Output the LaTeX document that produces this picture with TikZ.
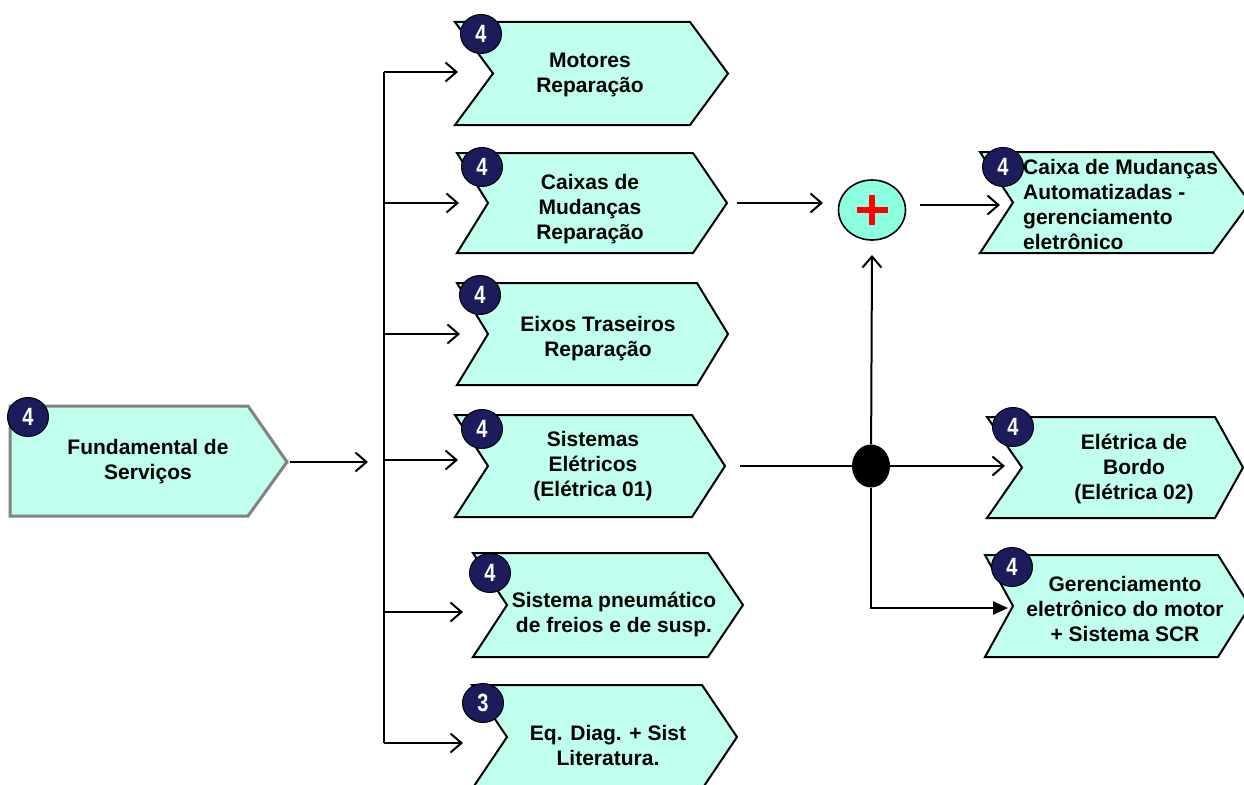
\documentclass[tikz,border=0pt]{standalone}
\usepackage{fontspec}
\setmainfont{Liberation Sans}
\usetikzlibrary{arrows.meta,shapes.geometric}
\definecolor{mint}{RGB}{192,255,238}
\definecolor{aqua}{RGB}{140,255,222}
\definecolor{navy}{RGB}{28,28,92}
\definecolor{gborder}{RGB}{130,130,130}
\newcommand{\chev}[7]{%
  \draw[chevbox] (#2,#3) -- (#6,#3) -- (#7,{(#3+#4)/2}) -- (#6,#4) -- (#2,#4) -- ({#2+#5},{(#3+#4)/2}) -- cycle;
  \coordinate (#1-w) at (#2,{(#3+#4)/2});
  \coordinate (#1-n) at ({#2+#5},{(#3+#4)/2});
  \coordinate (#1-e) at (#7,{(#3+#4)/2});
}
\tikzset{
  chevbox/.style={draw=black, line width=2pt, fill=mint, line join=miter},
  fundbox/.style={draw=gborder, line width=3pt, fill=mint, line join=miter},
  txt/.style={font=\fontsize{21}{25}\selectfont\bfseries, align=center, inner sep=0pt},
  badge/.style={ellipse, draw=black, line width=1pt, fill=navy, text=white,
    font=\fontsize{25}{25}\selectfont\bfseries, minimum width=41pt, minimum height=39pt, inner sep=0pt},
  conn/.style={line width=2pt},
  arr/.style={conn, -{Straight Barb[length=11pt,width=19pt,line width=2pt]}},
  farr/.style={conn, -{Triangle[length=15pt,width=13pt]}},
  plusnode/.style={ellipse, draw=black, line width=1.6pt, fill=aqua, minimum width=67pt, minimum height=60pt, inner sep=0pt},
  dotnode/.style={ellipse, fill=black, minimum width=38pt, minimum height=43pt, inner sep=0pt},
}
\newcommand{\bd}[1]{\scalebox{0.8}[1]{#1}}
\begin{document}
\begin{tikzpicture}[x=1pt,y=-1pt]
\useasboundingbox (0,0) rectangle (1244,784);
% left box
\draw[fundbox] (10,406) -- (248,406) -- (287,462) -- (248,516) -- (10,516) -- cycle;
\coordinate (fund-e) at (287,462);
% middle column
\chev{mot}{455}{22}{125}{38}{690}{728}
\chev{cai}{457}{153}{253}{31}{693}{727}
\chev{eix}{457}{283}{385}{31}{697}{728}
\chev{sis}{455}{415}{517}{33}{692}{725}
\chev{pne}{473}{553}{657}{34}{708}{743}
\chev{eqd}{472}{685}{789}{35}{702}{737}
% right column
\chev{cma}{980}{152}{253}{33}{1213}{1250}
\chev{ele}{987}{417}{518}{35}{1215}{1243}
\chev{ger}{985}{555}{657}{28}{1218}{1250}
% texts
\node[txt] (fund-t) at (148,462) {Fundamental de\\Serviços};
\node[txt] (mot-t) at (590,75) {Motores\\Reparação};
\node[txt] (cai-t) at (590,209) {Caixas de\\Mudanças\\Reparação};
\node[txt] (eix-t) at (598,339) {Eixos Traseiros\\Reparação};
\node[txt] (sis-t) at (593,466) {Sistemas\\Elétricos\\(Elétrica 01)};
\node[txt] (pne-t) at (614,614) {Sistema pneumático\\de freios e de susp.};
\node[txt] (eqd-t) at (608,745) {Eq. Diag. + Sist\\Literatura.};
\node[txt, align=left, anchor=west] (cma-t) at (1023,204) {Caixa de Mudanças\\Automatizadas -\\gerenciamento\\eletrônico};
\node[txt] (ele-t) at (1134,469) {Elétrica de\\Bordo\\(Elétrica 02)};
\node[txt] (ger-t) at (1125,609) {Gerenciamento\\eletrônico do motor\\+ Sistema SCR};
% badges
\node[badge] (fund-b) at (28,417) {\bd{4}};
\node[badge] (mot-b) at (481,34) {\bd{4}};
\node[badge] (cai-b) at (482,167) {\bd{4}};
\node[badge] (eix-b) at (480,295) {\bd{4}};
\node[badge] (sis-b) at (482,429) {\bd{4}};
\node[badge] (pne-b) at (490,573) {\bd{4}};
\node[badge] (eqd-b) at (483,703) {\bd{3}};
\node[badge] (cma-b) at (1003,167) {\bd{4}};
\node[badge] (ele-b) at (1013,427) {\bd{4}};
\node[badge] (ger-b) at (1012,567) {\bd{4}};
% bus
\coordinate (bus-in) at (368,462);
\coordinate (br1) at (384,72);
\coordinate (br2) at (384,203);
\coordinate (br3) at (384,334);
\coordinate (br4) at (384,460);
\coordinate (br5) at (384,612);
\coordinate (br6) at (384,743);
\coordinate (t1) at (458,72);
\coordinate (t2) at (459,203);
\coordinate (t3) at (460,334);
\coordinate (t4) at (458,460);
\coordinate (t5) at (463,612);
\coordinate (t6) at (463,743);
\draw[arr] ([xshift=3pt]fund-e) -- (bus-in);
\draw[conn] (br1) -- (br6);
\foreach \i in {1,...,6} { \draw[arr] (br\i) -- (t\i); }
% junctions
\node[plusnode] (plus) at (872,210) {};
\draw[red, line width=6pt] ([xshift=-15.5pt]plus.center) -- ([xshift=15.5pt]plus.center);
\draw[red, line width=6pt] ([yshift=-15pt]plus.center) -- ([yshift=15pt]plus.center);
\node[dotnode] (dot) at (871,466) {};
\coordinate (c1) at (737,203);
\coordinate (c2) at (823,203);
\coordinate (c3) at (920,205);
\coordinate (c4) at (1000,205);
\coordinate (c5) at (740,466);
\coordinate (c6) at (1005,466);
\coordinate (c7) at (872,255);
\coordinate (c8) at (1008,608);
\draw[arr] (c1) -- (c2);
\draw[arr] (c3) -- (c4);
\draw[conn] (c5) -- (dot.center);
\draw[arr] (dot) -- (c6);
\draw[arr] (dot) -- (c7);
\draw[farr] (dot) |- (c8);
\end{tikzpicture}
\end{document}
